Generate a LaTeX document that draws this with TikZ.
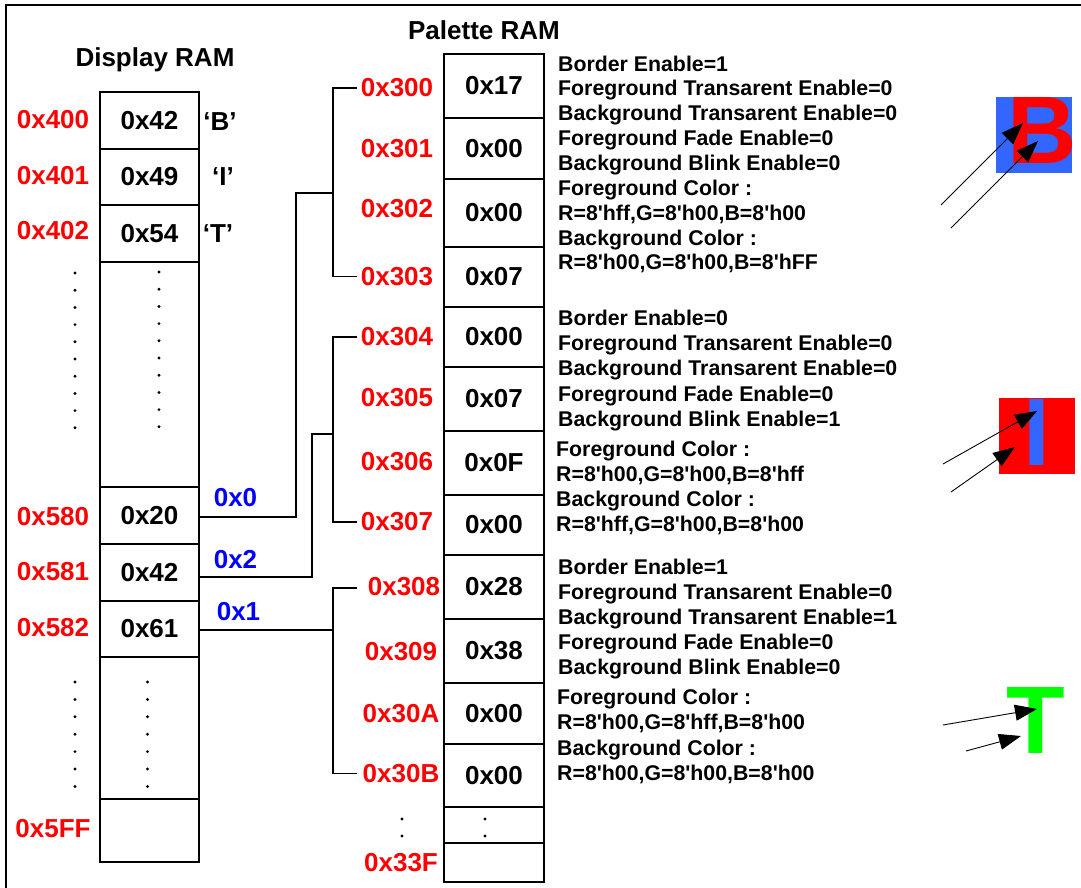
\documentclass[tikz,border=0pt]{standalone}
\usepackage{fontspec}
\setmainfont{Liberation Sans}
\usetikzlibrary{arrows.meta}
\newcommand{\sq}{\textquotesingle}
\definecolor{addrred}{RGB}{255,0,0}
\definecolor{idxblue}{RGB}{0,0,255}
\definecolor{bgblue}{RGB}{51,102,255}
\definecolor{fggreen}{RGB}{0,255,0}
\begin{document}
\begin{tikzpicture}[x=1pt,y=-1pt,
  bigfont/.style={font=\fontsize{26}{30}\selectfont\bfseries},
  cell/.style={draw, line width=2pt, inner sep=0pt, bigfont, minimum width=99pt},
  pcell/.style={cell, minimum width=100pt},
  addr/.style={bigfont, text=addrred, inner sep=0pt},
  idx/.style={bigfont, text=idxblue, inner sep=0pt},
  chr/.style={bigfont, inner sep=0pt},
  title/.style={bigfont, inner sep=0pt, anchor=base},
  desc/.style={font=\fontsize{21.3}{25}\selectfont\bfseries, inner sep=0pt, anchor=base west},
  conn/.style={line width=1.5pt},
  ptr/.style={line width=0.9pt, -{Triangle[length=22pt,width=16pt]}},
  glyph/.style={font=\fontsize{96}{96}\selectfont\bfseries, inner sep=0pt, anchor=base},
  dot/.style={fill=black}
]
\useasboundingbox (0,0) rectangle (1081,888);
% frame
\draw[line width=2pt] (1081,5) -- (6,5) -- (6,888);

% titles
\node[title] (tdisp) at (155,66.7) {Display RAM};
\node[title] (tpal) at (484,39.3) {Palette RAM};

% Display RAM cells
\node[cell, minimum height=57pt] (d0) at (149.5,120.5) {0x42};
\node[cell, minimum height=56pt] (d1) at (149.5,177) {0x49};
\node[cell, minimum height=57pt] (d2) at (149.5,233.5) {0x54};
\node[cell, minimum height=225pt] (dg1) at (149.5,374.5) {};
\node[cell, minimum height=57pt] (d80) at (149.5,515.5) {0x20};
\node[cell, minimum height=57pt] (d81) at (149.5,572.5) {0x42};
\node[cell, minimum height=56pt] (d82) at (149.5,629) {0x61};
\node[cell, minimum height=142pt] (dg2) at (149.5,728) {};
\node[cell, minimum height=63pt] (dff) at (149.5,830.5) {};

% Display RAM addresses
\node[addr] (a400) at (53,120) {0x400};
\node[addr] (a401) at (53,176) {0x401};
\node[addr] (a402) at (53,231) {0x402};
\node[addr] (a580) at (53,517) {0x580};
\node[addr] (a581) at (53,572) {0x581};
\node[addr] (a582) at (53,628) {0x582};
\node[addr] (a5FF) at (53,829) {0x5FF};

% characters
\node[chr] (cB) at (220,122) {‘B’};
\node[chr] (cI) at (223,177) {‘I’};
\node[chr] (cT) at (218,234) {‘T’};

% dots in Display RAM
\foreach \k in {0,...,9} {
  \fill[dot] (75,273+17.2*\k) circle[radius=1.6pt];
  \fill[dot] (159,272+17.2*\k) circle[radius=1.6pt];
}
\foreach \k in {0,...,6} {
  \fill[dot] (75,682+17.4*\k) circle[radius=1.6pt];
  \fill[dot] (147.5,682+17.4*\k) circle[radius=1.6pt];
}

% Palette RAM cells
\node[pcell, minimum height=64pt] (p0) at (494,86) {0x17};
\node[pcell, minimum height=61pt] (p1) at (494,148.5) {0x00};
\node[pcell, minimum height=68pt] (p2) at (494,213) {0x00};
\node[pcell, minimum height=60pt] (p3) at (494,277) {0x07};
\node[pcell, minimum height=60pt] (p4) at (494,337) {0x00};
\node[pcell, minimum height=64pt] (p5) at (494,399) {0x07};
\node[pcell, minimum height=64pt] (p6) at (494,463) {0x0F};
\node[pcell, minimum height=60pt] (p7) at (494,525) {0x00};
\node[pcell, minimum height=64pt] (p8) at (494,587) {0x28};
\node[pcell, minimum height=64pt] (p9) at (494,651) {0x38};
\node[pcell, minimum height=61pt] (pA) at (494,713.5) {0x00};
\node[pcell, minimum height=63pt] (pB) at (494,775.5) {0x00};
\node[pcell, minimum height=36pt] (pD) at (494,825) {};
\node[pcell, minimum height=39pt] (pF) at (494,862.5) {};
\fill[dot] (485,819) circle[radius=1.6pt];
\fill[dot] (485,836) circle[radius=1.6pt];

% Palette addresses
\node[addr] (a300) at (397,88) {0x300};
\node[addr] (a301) at (397,149) {0x301};
\node[addr] (a302) at (397,208.5) {0x302};
\node[addr] (a303) at (397,276.5) {0x303};
\node[addr] (a304) at (397,337) {0x304};
\node[addr] (a305) at (397,397.5) {0x305};
\node[addr] (a306) at (397,462) {0x306};
\node[addr] (a307) at (397,522) {0x307};
\node[addr] (a308) at (404,587) {0x308};
\node[addr] (a309) at (401,652) {0x309};
\node[addr] (a30A) at (401,713.5) {0x30A};
\node[addr] (a30B) at (401,773.5) {0x30B};
\node[addr] (a33F) at (401,862.5) {0x33F};
\fill[dot] (402,819) circle[radius=1.6pt];
\fill[dot] (402,836) circle[radius=1.6pt];

% brackets
\coordinate (tx) at (357,0);
\coordinate (j1) at (333,193);
\coordinate (k1) at (296,193);
\coordinate (j2) at (333,434);
\coordinate (k2) at (312,434);
\coordinate (j3) at (333,630);
\draw[conn] (tx |- a300) -| (j1) |- (tx |- a303);
\draw[conn] ([yshift=-1.5pt]d80.east) -| (k1) -- (j1);
\draw[conn] (tx |- a304) -| (j2) |- (tx |- a307);
\draw[conn] ([yshift=-4.5pt]d81.east) -| (k2) -- (j2);
\draw[conn] ([yshift=-1pt]tx |- a308) -| (j3) |- (tx |- a30B);
\draw[conn] ([yshift=-1pt]d82.east) -- ([yshift=-1pt]d82.east -| j3);

% index labels
\node[idx] (i0) at (235.5,498) {0x0};
\node[idx] (i2) at (235.5,560) {0x2};
\node[idx] (i1) at (238.5,612) {0x1};

% descriptions
\foreach \yy/\t [count=\i] in {
  64/Border Enable=1,
  88.5/Foreground Transarent Enable=0,
  113/Background Transarent Enable=0,
  138/Foreground Fade Enable=0,
  163/Background Blink Enable=0,
  188/Foreground Color :,
  212.5/{R=8\sq hff,G=8\sq h00,B=8\sq h00},
  237.5/Background Color :,
  262/{R=8\sq h00,G=8\sq h00,B=8\sq hFF}}
  \node[desc, name=ta\i] at (558,\yy+7.5) {\t};

\foreach \yy/\t [count=\i] in {
  318/Border Enable=0,
  343/Foreground Transarent Enable=0,
  368/Background Transarent Enable=0,
  393.5/Foreground Fade Enable=0,
  419/Background Blink Enable=1}
  \node[desc, name=tb\i] at (558,\yy+7.5) {\t};
\foreach \yy/\t [count=\i] in {
  449/Foreground Color :,
  473.5/{R=8\sq h00,G=8\sq h00,B=8\sq hff},
  499/Background Color :,
  524/{R=8\sq hff,G=8\sq h00,B=8\sq h00}}
  \node[desc, name=tc\i] at (556,\yy+7.5) {\t};

\foreach \yy/\t [count=\i] in {
  567/Border Enable=1,
  591.5/Foreground Transarent Enable=0,
  616.5/Background Transarent Enable=1,
  642/Foreground Fade Enable=0,
  667/Background Blink Enable=0}
  \node[desc, name=td\i] at (558,\yy+7.5) {\t};
\foreach \yy/\t [count=\i] in {
  696.5/Foreground Color :,
  721.5/{R=8\sq h00,G=8\sq hff,B=8\sq h00},
  747.5/Background Color :,
  772.5/{R=8\sq h00,G=8\sq h00,B=8\sq h00}}
  \node[desc, name=te\i] at (557,\yy+7.5) {\t};

% sample glyphs
\fill[bgblue] (996,97) rectangle (1072,173);
\node[glyph, text=red] (gB) at (1042.5,163) {B};
\fill[red] (999,398) rectangle (1075,474);
\node[glyph, text=bgblue] (gI) at (1037,465) {I};
\node[glyph, text=fggreen] (gT) at (1035.5,753) {T};

% pointer arrows
\coordinate (b1s) at (941,205); \coordinate (b1e) at (1023,123);
\coordinate (b2s) at (951,228); \coordinate (b2e) at (1038,141);
\coordinate (i1s) at (943,464); \coordinate (i1e) at (1037,411);
\coordinate (i2s) at (951,492); \coordinate (i2e) at (1015,447);
\coordinate (t1s) at (943,725); \coordinate (t1e) at (1037,709);
\coordinate (t2s) at (966,751); \coordinate (t2e) at (1021,736);
\draw[ptr] (b1s) -- (b1e);
\draw[ptr] (b2s) -- (b2e);
\draw[ptr] (i1s) -- (i1e);
\draw[ptr] (i2s) -- (i2e);
\draw[ptr] (t1s) -- (t1e);
\draw[ptr] (t2s) -- (t2e);
\end{tikzpicture}
\end{document}
